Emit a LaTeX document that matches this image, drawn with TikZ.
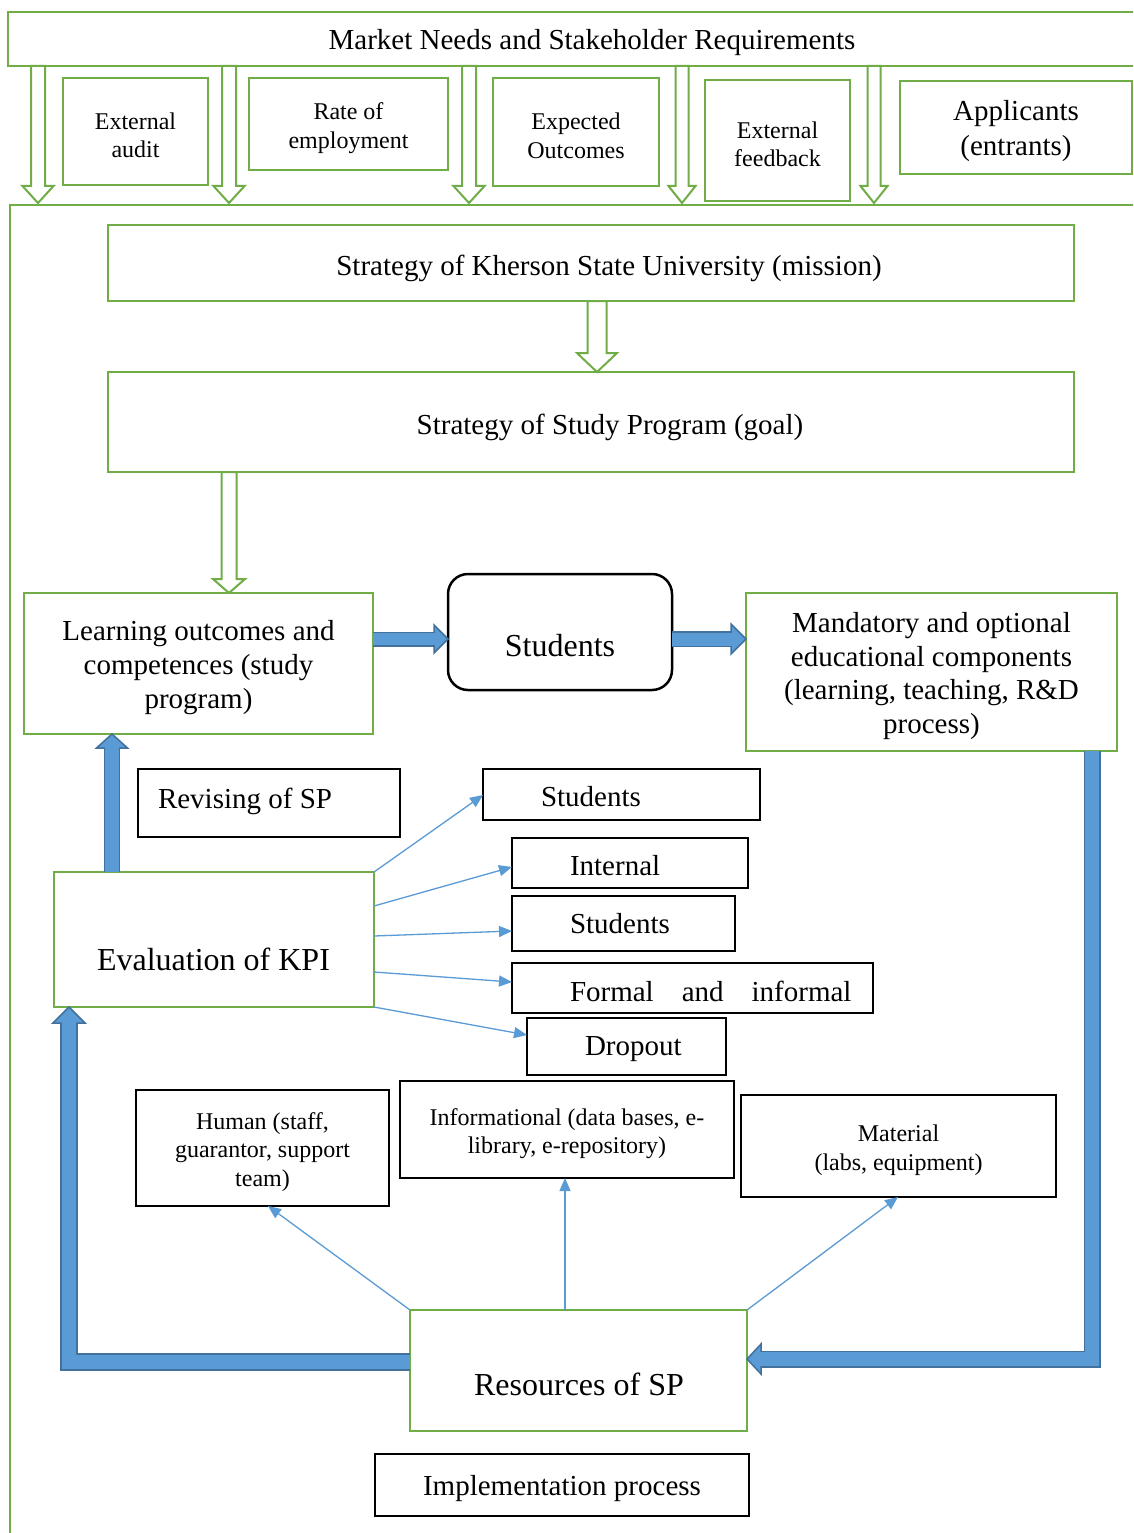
\documentclass[tikz,border=0pt]{standalone}
\usepackage{fontspec}
\setmainfont{Liberation Serif}
\usetikzlibrary{calc,arrows.meta}
\definecolor{gr}{HTML}{70AD47}
\definecolor{bfill}{HTML}{5B9BD5}
\definecolor{bdark}{HTML}{41719C}
\newcommand\szA{\fontsize{24}{28.5}\selectfont}
\newcommand\szB{\fontsize{29}{33.8}\selectfont}
\newcommand\szBw{\fontsize{29}{35}\selectfont}
\newcommand\szC{\fontsize{32}{37}\selectfont}
\tikzset{
 gbox/.style={draw=gr, line width=2.4pt, fill=white, inner sep=0pt, outer sep=0pt},
 tbox/.style={draw=black, line width=1.6pt, fill=white, inner sep=0pt, outer sep=0pt},
 kbox/.style={draw=black, line width=2.8pt, fill=white, inner sep=0pt, outer sep=0pt},
 txt/.style={inner sep=0pt, outer sep=0pt},
 ctxt/.style={inner sep=0pt, outer sep=0pt, align=center},
 tharr/.style={draw=bfill, line width=1.3pt, -{Triangle[length=13pt,width=11pt]}},
 bout/.style={draw=bdark, line join=miter},
 bin/.style={draw=bfill, line join=miter},
 bhd/.style={fill=bfill, draw=bdark, line width=1.5pt, line join=miter},
 harr/.style={fill=white, draw=gr, line width=2pt, line join=miter},
}
% box style, name, x1, y1, x2, y2, text font, text
\newcommand\bxn[8]{\node[#1, minimum width={(#5)-(#3)}, minimum height={(#6)-(#4)}] (#2) at ({((#3)+(#5))/2},{((#4)+(#6))/2}) {};
  \node[ctxt, font=#7] (#2t) at ($(#2.center)+(0,4)$) {#8};}
\newcommand\hdown[5]{\filldraw[harr] let \p1=(#1), \p2=(#2) in (\x1-#3pt,\y1) -- (\x1+#3pt,\y1) -- (\x1+#3pt,\y2+#5pt) -- (\x1+#4pt,\y2+#5pt) -- (\x1,\y2) -- (\x1-#4pt,\y2+#5pt) -- (\x1-#3pt,\y2+#5pt) -- cycle;}
\newcommand\bhead[4]{\filldraw[bhd, shift={(#1)}, rotate=#2] (0pt,0pt) -- (-#4pt,#3pt) -- (-#4pt,-#3pt) -- cycle;}
\begin{document}
\begin{tikzpicture}[x=1pt,y=-1pt]
\useasboundingbox (0,0) rectangle (1133,1533);
\clip (0,0) rectangle (1133,1533);
\fill[white] (0,0) rectangle (1133,1533);
% outer frame
\draw[draw=gr, line width=2.4pt] (1150,205) -- (10,205) -- (10,1550);
% top row
\bxn{gbox}{market}{8}{12}{1176}{66}{\szB}{Market Needs and Stakeholder Requirements}
\bxn{gbox}{ea}{63}{78}{208}{185}{\szA}{External\\audit}
\bxn{gbox}{roe}{249}{78}{448}{170}{\szA}{Rate of\\employment}
\bxn{gbox}{eo}{493}{78}{659}{186}{\szA}{Expected\\Outcomes}
\bxn{gbox}{ef}{705}{80}{850}{201}{\szA}{External\\feedback}
\bxn{gbox}{app}{900}{81}{1132}{174}{\szBw}{Applicants\\(entrants)}
% strategies
\bxn{gbox}{ksu}{108}{225}{1074}{301}{\szB}{}
\bxn{gbox}{ssp}{108}{372}{1074}{472}{\szB}{}
% middle
\bxn{gbox}{lo}{24}{593}{373}{734}{\szB}{Learning outcomes and\\competences (study\\program)}
\bxn{kbox,rounded corners=20pt,line width=2.5pt}{st}{448}{574}{672}{690}{\szC}{}
\bxn{gbox}{mand}{746}{593}{1117}{751}{\szB}{Mandatory and optional\\educational components\\(learning, teaching, R\&D\\process)}
\bxn{tbox}{rev}{138}{769}{400}{837}{\szB}{}
\bxn{tbox}{k1}{483}{769}{760}{820}{\szB}{}
\bxn{tbox}{k2}{512}{838}{748}{888}{\szB}{}
\bxn{tbox}{k3}{512}{896}{735}{951}{\szB}{}
\bxn{tbox}{k4}{512}{963}{873}{1013}{\szB}{}
\bxn{tbox}{k5}{527}{1018}{726}{1075}{\szB}{}
\bxn{gbox}{eval}{54}{872}{374}{1007}{\szC}{}
% resources
\bxn{kbox}{hum}{136}{1090}{389}{1206}{\szA}{Human (staff,\\guarantor, support\\team)}
\bxn{kbox}{inf}{400}{1081}{734}{1178}{\szA}{Informational (data bases, e-\\library, e-repository)}
\bxn{kbox}{mat}{741}{1095}{1056}{1197}{\szA}{Material\\(labs, equipment)}
\bxn{gbox}{res}{410}{1310}{747}{1431}{\szC}{}
\bxn{tbox}{impl}{375}{1454}{749}{1516}{\szB}{Implementation process}
% hollow green arrows
\coordinate (h1s) at (38,0 |- market.south);  \coordinate (h1t) at (38,203);
\coordinate (h2s) at (229,0 |- market.south); \coordinate (h2t) at (229,203);
\coordinate (h3s) at (469,0 |- market.south); \coordinate (h3t) at (469,203);
\coordinate (h4s) at (682,0 |- market.south); \coordinate (h4t) at (682,203);
\coordinate (h5s) at (874,0 |- market.south); \coordinate (h5t) at (874,203);
\hdown{h1s}{h1t}{7}{15.5}{17}
\hdown{h2s}{h2t}{7}{15.5}{17}
\hdown{h3s}{h3t}{7}{15.5}{17}
\hdown{h4s}{h4t}{6.5}{13.5}{17}
\hdown{h5s}{h5t}{6.5}{13.5}{17}
\coordinate (h6s) at (597,0 |- ksu.south); \coordinate (h6t) at (597,0 |- ssp.north);
\hdown{h6s}{h6t}{9.5}{20}{19}
\coordinate (h7s) at (229,0 |- ssp.south); \coordinate (h7t) at (229,0 |- lo.north);
\hdown{h7s}{h7t}{7.5}{16}{14}
% blue block arrows
\coordinate (a1s) at (lo.east |- 0,639); \coordinate (a1t) at (st.west |- 0,639);
\draw[bout, line width=15pt, shorten >=14pt] (a1s) -- (a1t);
\bhead{a1t}{0}{14}{14}
\draw[bin, line width=12pt, shorten >=12.5pt] (a1s) -- (a1t);
\coordinate (a2s) at (st.east |- 0,639); \coordinate (a2t) at (mand.west |- 0,639);
\draw[bout, line width=16pt, shorten >=15pt] (a2s) -- (a2t);
\bhead{a2t}{0}{15}{15}
\draw[bin, line width=13pt, shorten >=13.5pt] (a2s) -- (a2t);
\coordinate (a3s) at (112,0 |- eval.north); \coordinate (a3t) at (112,0 |- lo.south);
\draw[bout, line width=16.5pt, shorten >=14pt] (a3s) -- (a3t);
\bhead{a3t}{90}{15.5}{14}
\draw[bin, line width=13.5pt, shorten >=12.5pt] (a3s) -- (a3t);
\coordinate (a4s) at (res.west |- 0,1362); \coordinate (a4t) at (69,0 |- eval.south);
\draw[bout, line width=17.5pt, shorten >=16pt] (a4s) -| (a4t);
\bhead{a4t}{90}{16}{16}
\draw[bin, line width=14.5pt, shorten >=14.5pt] (a4s) -| (a4t);
\coordinate (a5s) at (1092,0 |- mand.south); \coordinate (a5t) at (res.east |- 0,1359);
\draw[bout, line width=17pt, shorten >=14pt] (a5s) |- (a5t);
\bhead{a5t}{180}{15}{14}
\draw[bin, line width=14pt, shorten >=12.5pt] (a5s) |- (a5t);
% thin blue arrows
\draw[tharr] (eval.north east) -- (k1.west |- 0,795);
\draw[tharr] (eval.east |- 0,906) -- (k2.west |- 0,867);
\draw[tharr] (eval.east |- 0,936) -- (k3.west |- 0,931);
\draw[tharr] (eval.east |- 0,972) -- (k4.west |- 0,982);
\draw[tharr] (eval.south east) -- (k5.west |- 0,1035);
\draw[tharr] (res.north west) -- (268,0 |- hum.south);
\draw[tharr] (565,0 |- res.north) -- (565,0 |- inf.south);
\draw[tharr] (res.north east) -- (898,0 |- mat.south);
% texts placed off-centre
\node[txt, font=\szB, anchor=base] (ksux) at (609,275) {Strategy of Kherson State University (mission)};
\node[txt, font=\szB, anchor=base] (sspx) at (610,434) {Strategy of Study Program (goal)};
\node[txt, font=\szC, anchor=base] (stx) at (560,656.5) {Students};
\node[txt, font=\szB, anchor=base west] (revx) at (158,808) {Revising of SP};
\node[txt, font=\szB, anchor=base west] (k1x) at (541,806) {Students};
\node[txt, font=\szB, anchor=base west] (k2x) at (570,875) {Internal};
\node[txt, font=\szB, anchor=base west] (k3x) at (570,933) {Students};
\node[txt, font=\szB, anchor=base west] (k4x) at (570,1001) {Formal\hspace{28pt}and\hspace{28pt}informal};
\node[txt, font=\szB, anchor=base west] (k5x) at (585,1055) {Dropout};
\node[txt, font=\szC, anchor=base] (evx) at (213.5,970) {Evaluation of KPI};
\node[txt, font=\szC, anchor=base] (resx) at (579,1395) {Resources of SP};
\end{tikzpicture}
\end{document}
